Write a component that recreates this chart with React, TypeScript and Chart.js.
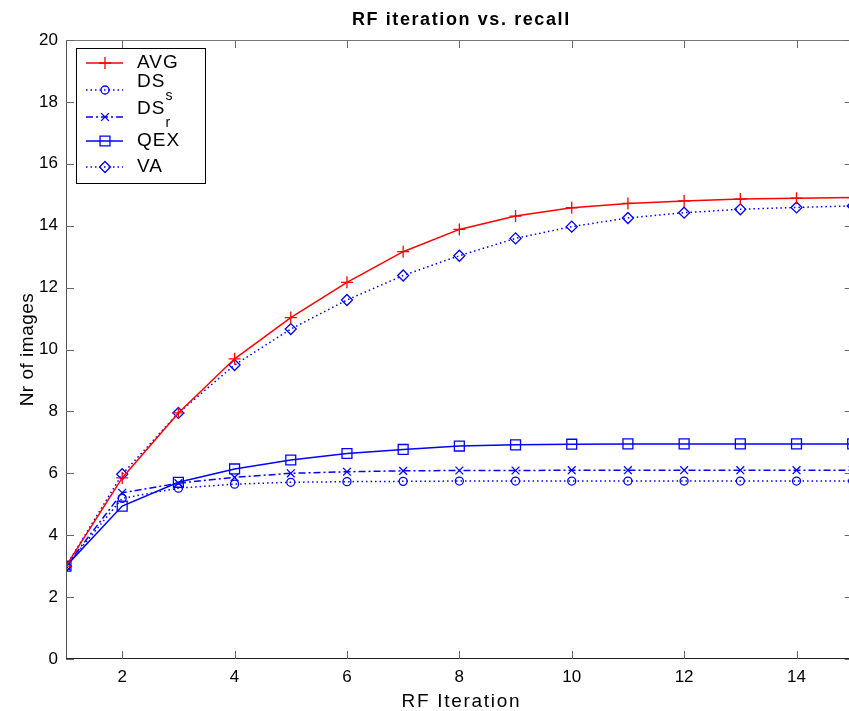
import React, { useEffect, useRef } from "react";
import { Chart, registerables } from "chart.js";

Chart.register(...registerables);

const ITER = [1, 2, 3, 4, 5, 6, 7, 8, 9, 10, 11, 12, 13, 14, 15];
const AVG = [3, 5.85, 7.95, 9.7, 11.03, 12.17, 13.16, 13.88, 14.31, 14.58, 14.72, 14.8, 14.86, 14.89, 14.91];
const DS_S = [3, 5.19, 5.52, 5.65, 5.71, 5.73, 5.74, 5.75, 5.75, 5.75, 5.75, 5.75, 5.75, 5.75, 5.75];
const DS_R = [3, 5.37, 5.68, 5.87, 6.0, 6.05, 6.08, 6.09, 6.09, 6.1, 6.1, 6.1, 6.1, 6.1, 6.1];
const QEX = [3, 4.94, 5.71, 6.14, 6.43, 6.64, 6.77, 6.88, 6.92, 6.94, 6.95, 6.95, 6.95, 6.95, 6.95];
const VA = [3, 5.97, 7.95, 9.5, 10.66, 11.6, 12.39, 13.03, 13.59, 13.97, 14.25, 14.42, 14.53, 14.59, 14.64];
const X_TICKS = [2, 4, 6, 8, 10, 12, 14];
const Y_TICKS = [0, 2, 4, 6, 8, 10, 12, 14, 16, 18, 20];

const TITLE = "RF iteration vs. recall";
const X_TITLE = "RF Iteration";
const Y_TITLE = "Nr of images";

const FONT = "'Liberation Sans', Arial, sans-serif";
const RED = "#ff0000";
const BLUE = "#0000ff";

type Series = {
  label: string;
  sub?: string;
  data: number[];
  color: string;
  dash: number[];
  marker: string;
  r: number;
};

const SERIES: Series[] = [
  { label: "AVG", data: AVG, color: RED, dash: [], marker: "cross", r: 6 },
  { label: "DS", sub: "s", data: DS_S, color: BLUE, dash: [1.5, 3], marker: "circle", r: 4 },
  { label: "DS", sub: "r", data: DS_R, color: BLUE, dash: [7, 3, 2, 3], marker: "crossRot", r: 5.5 },
  { label: "QEX", data: QEX, color: BLUE, dash: [], marker: "rect", r: 7 },
  { label: "VA", data: VA, color: BLUE, dash: [1.5, 3], marker: "rectRot", r: 5.5 },
];

function drawMarker(ctx: CanvasRenderingContext2D, style: string, x: number, y: number, r: number) {
  ctx.beginPath();
  if (style === "cross") {
    ctx.moveTo(x - r, y);
    ctx.lineTo(x + r, y);
    ctx.moveTo(x, y - r);
    ctx.lineTo(x, y + r);
  } else if (style === "crossRot") {
    const o = r * Math.SQRT1_2;
    ctx.moveTo(x - o, y - o);
    ctx.lineTo(x + o, y + o);
    ctx.moveTo(x - o, y + o);
    ctx.lineTo(x + o, y - o);
  } else if (style === "circle") {
    ctx.arc(x, y, r, 0, Math.PI * 2);
  } else if (style === "rect") {
    const s = r * Math.SQRT1_2;
    ctx.rect(x - s, y - s, 2 * s, 2 * s);
  } else if (style === "rectRot") {
    ctx.moveTo(x, y - r);
    ctx.lineTo(x + r, y);
    ctx.lineTo(x, y + r);
    ctx.lineTo(x - r, y);
    ctx.closePath();
  }
  ctx.stroke();
}

function spaced(ctx: any, px: number) {
  if ("letterSpacing" in ctx) ctx.letterSpacing = px + "px";
}

const framePlugin = {
  id: "matlabFrame",
  afterDraw(chart: any) {
    const ctx: any = chart.ctx;
    const { left, right, top, bottom } = chart.chartArea;
    const xs = chart.scales.x;
    const ys = chart.scales.y;
    ctx.save();
    // axes box
    ctx.lineWidth = 1;
    ctx.strokeStyle = "#777777";
    ctx.beginPath();
    ctx.moveTo(left, top + 0.5);
    ctx.lineTo(right, top + 0.5);
    ctx.stroke();
    ctx.strokeStyle = "#555555";
    ctx.beginPath();
    ctx.moveTo(left + 0.5, top);
    ctx.lineTo(left + 0.5, bottom);
    ctx.stroke();
    ctx.strokeStyle = "#222222";
    ctx.beginPath();
    ctx.moveTo(left, bottom - 0.5);
    ctx.lineTo(right, bottom - 0.5);
    ctx.stroke();
    // inward ticks
    ctx.strokeStyle = "#666666";
    const tl = 8;
    ctx.beginPath();
    X_TICKS.forEach((v) => {
      const px = Math.round(xs.getPixelForValue(v)) + 0.5;
      ctx.moveTo(px, bottom);
      ctx.lineTo(px, bottom - tl);
      ctx.moveTo(px, top);
      ctx.lineTo(px, top + tl);
    });
    Y_TICKS.forEach((v) => {
      const py = Math.round(ys.getPixelForValue(v)) + 0.5;
      ctx.moveTo(left, py);
      ctx.lineTo(left + tl, py);
      ctx.moveTo(right, py);
      ctx.lineTo(right - tl, py);
    });
    ctx.stroke();

    const cx = (left + right) / 2 + 2;
    // title
    ctx.fillStyle = "#000";
    ctx.textAlign = "center";
    ctx.textBaseline = "alphabetic";
    ctx.font = `bold 18px ${FONT}`;
    spaced(ctx, 1.6);
    ctx.fillText(TITLE, cx, 25);
    // x title
    ctx.font = `19px ${FONT}`;
    spaced(ctx, 1.7);
    ctx.fillText(X_TITLE, cx, 707);
    // y title
    ctx.save();
    ctx.translate(33, (top + bottom) / 2);
    ctx.rotate(-Math.PI / 2);
    spaced(ctx, 0.5);
    ctx.fillText(Y_TITLE, 0, 0);
    ctx.restore();

    // legend
    const bx = 76, by = 48, bw = 129, bh = 135;
    ctx.fillStyle = "#fff";
    ctx.fillRect(bx, by, bw, bh);
    ctx.strokeStyle = "#000";
    ctx.lineWidth = 1;
    ctx.strokeRect(bx + 0.5, by + 0.5, bw, bh);
    const rows = [63, 90, 117, 141, 167];
    SERIES.forEach((s, i) => {
      const y = rows[i];
      ctx.strokeStyle = s.color;
      ctx.lineWidth = 1.5;
      ctx.setLineDash(s.dash);
      ctx.beginPath();
      ctx.moveTo(86, y);
      ctx.lineTo(123, y);
      ctx.stroke();
      ctx.setLineDash([]);
      ctx.lineWidth = 1.3;
      drawMarker(ctx, s.marker, 105, y, s.r);
      ctx.fillStyle = "#000";
      ctx.textAlign = "left";
      ctx.textBaseline = "middle";
      spaced(ctx, 1);
      if (s.sub) {
        ctx.font = `19px ${FONT}`;
        ctx.fillText(s.label, 137, y - 8);
        const w = ctx.measureText(s.label).width;
        ctx.font = `14px ${FONT}`;
        ctx.fillText(s.sub, 137 + w, y + 6);
      } else {
        ctx.font = `19px ${FONT}`;
        ctx.fillText(s.label, 137, y);
      }
    });
    ctx.restore();
  },
};

export default function App() {
  const ref = useRef<HTMLCanvasElement | null>(null);
  useEffect(() => {
    document.body.style.margin = "0";
    const canvas = ref.current;
    if (!canvas) return;
    const chart = new Chart(canvas, {
      type: "line",
      data: {
        datasets: SERIES.map((s) => ({
          label: s.sub ? s.label + s.sub : s.label,
          data: s.data.map((v, i) => ({ x: ITER[i], y: v })),
          borderColor: s.color,
          borderWidth: 1.5,
          borderDash: s.dash,
          pointStyle: s.marker as any,
          pointRadius: s.r,
          pointBorderColor: s.color,
          pointBackgroundColor: "rgba(0,0,0,0)",
          pointBorderWidth: 1.3,
          tension: 0,
          fill: false,
        })),
      },
      plugins: [framePlugin],
      options: {
        responsive: false,
        animation: false,
        events: [],
        layout: { padding: { top: 40, left: 0, right: 0, bottom: 0 } },
        plugins: {
          legend: { display: false },
          title: { display: false },
          tooltip: { enabled: false },
        },
        scales: {
          x: {
            type: "linear",
            min: 1,
            max: 15,
            afterBuildTicks: (scale: any) => {
              scale.ticks = X_TICKS.map((v) => ({ value: v }));
            },
            afterFit: (scale: any) => {
              scale.height = 52;
            },
            grid: { display: false, drawTicks: false },
            border: { display: false },
            ticks: {
              color: "#000",
              font: { family: FONT, size: 17 },
              padding: 8,
              maxRotation: 0,
              autoSkip: false,
            },
            title: { display: false },
          },
          y: {
            type: "linear",
            min: 0,
            max: 20,
            afterBuildTicks: (scale: any) => {
              scale.ticks = Y_TICKS.map((v) => ({ value: v }));
            },
            afterFit: (scale: any) => {
              scale.width = 66;
            },
            grid: { display: false, drawTicks: false },
            border: { display: false },
            ticks: {
              color: "#000",
              font: { family: FONT, size: 17 },
              padding: 8,
              autoSkip: false,
            },
            title: { display: false },
          },
        },
      },
    });
    return () => chart.destroy();
  }, []);
  return (
    <div style={{ width: 849, height: 711, overflow: "hidden", background: "#fff" }}>
      <canvas ref={ref} width={861} height={711} style={{ display: "block" }} />
    </div>
  );
}
